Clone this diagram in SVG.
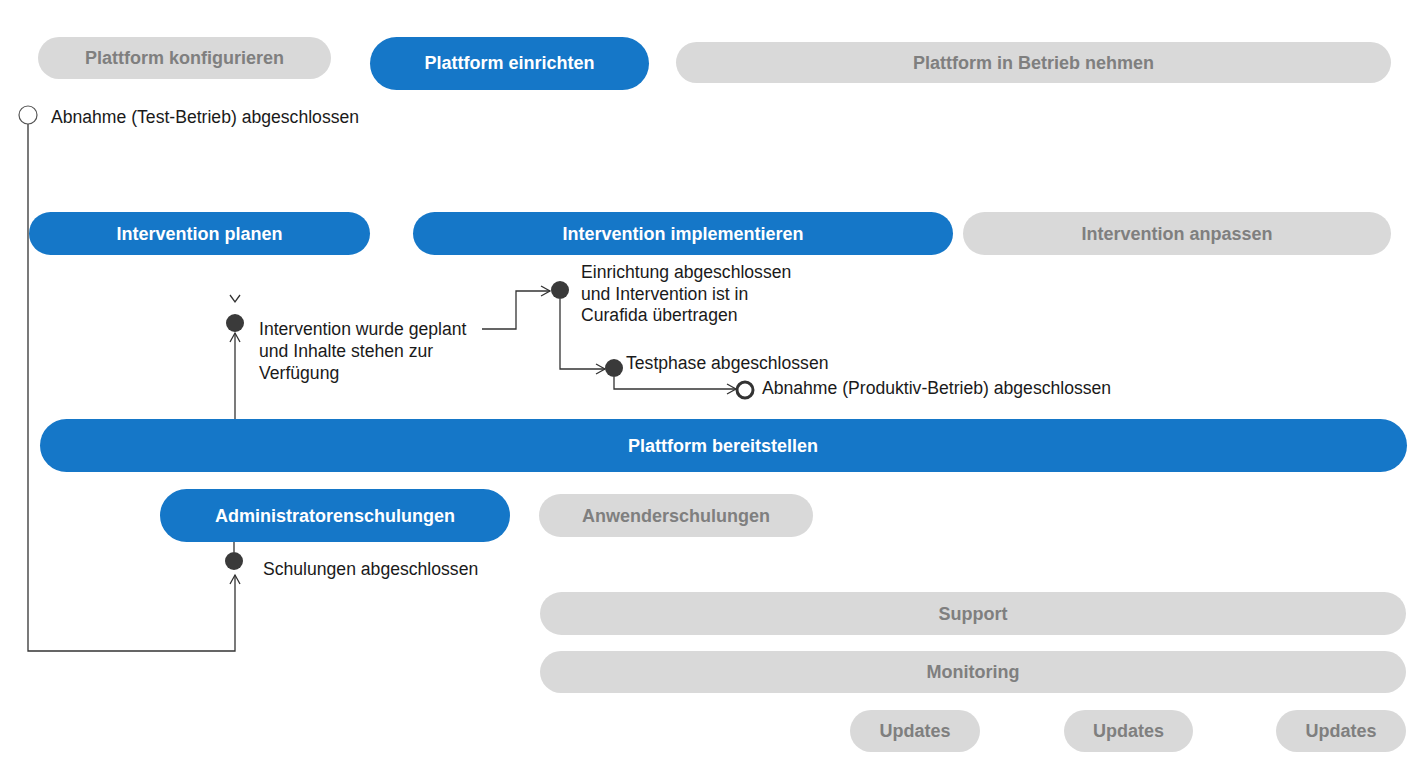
<svg xmlns="http://www.w3.org/2000/svg" width="1410" height="760" viewBox="0 0 1410 760">
<style>
.blue{fill:#1577c8}
.gray{fill:#d9d9d9}
.lb{font-family:"Liberation Sans",Arial,sans-serif;font-weight:bold;font-size:18px;text-anchor:middle}
.lw{fill:#ffffff}
.lg{fill:#7f7f7f}
.t{font-family:"Liberation Sans",Arial,sans-serif;font-size:17.6px;fill:#1a1a1a}
.ln{fill:none;stroke:#333333;stroke-width:1.3}
.dot{fill:#3a3a3a}
</style>
<defs>
<marker id="ah" markerWidth="12" markerHeight="12" refX="10" refY="6" orient="auto" markerUnits="userSpaceOnUse">
<path d="M1,1 L10,6 L1,11" fill="none" stroke="#333333" stroke-width="1.3"/>
</marker>
</defs>
<rect width="1410" height="760" fill="#ffffff"/>

<g id="n-plattform-konfigurieren"><rect class="gray" x="38" y="37" width="293" height="42" rx="21"/><text class="lb lg" x="184.5" y="64">Plattform konfigurieren</text></g>
<g id="n-plattform-einrichten"><rect class="blue" x="370" y="37" width="279" height="53" rx="26.5"/><text class="lb lw" x="509.5" y="69">Plattform einrichten</text></g>
<g id="n-plattform-betrieb"><rect class="gray" x="676" y="42" width="715" height="41" rx="20.5"/><text class="lb lg" x="1033.5" y="69">Plattform in Betrieb nehmen</text></g>

<g id="n-intervention-planen"><rect class="blue" x="29" y="212" width="341" height="43" rx="21.5"/><text class="lb lw" x="199.5" y="240">Intervention planen</text></g>
<g id="n-intervention-implementieren"><rect class="blue" x="413" y="212" width="540" height="43" rx="21.5"/><text class="lb lw" x="683" y="240">Intervention implementieren</text></g>
<g id="n-intervention-anpassen"><rect class="gray" x="963" y="212" width="428" height="43" rx="21.5"/><text class="lb lg" x="1177" y="240">Intervention anpassen</text></g>

<g id="n-plattform-bereitstellen"><rect class="blue" x="40" y="419" width="1367" height="53" rx="26.5"/><text class="lb lw" x="723" y="452">Plattform bereitstellen</text></g>

<g id="n-administratorenschulungen"><rect class="blue" x="160" y="489" width="350" height="53" rx="26.5"/><text class="lb lw" x="335" y="522">Administratorenschulungen</text></g>
<g id="n-anwenderschulungen"><rect class="gray" x="539" y="494" width="274" height="43" rx="21.5"/><text class="lb lg" x="676" y="522">Anwenderschulungen</text></g>

<g id="n-support"><rect class="gray" x="540" y="592" width="866" height="43" rx="21.5"/><text class="lb lg" x="973" y="620">Support</text></g>
<g id="n-monitoring"><rect class="gray" x="540" y="651" width="866" height="42" rx="21"/><text class="lb lg" x="973" y="678">Monitoring</text></g>

<g id="n-updates-1"><rect class="gray" x="850" y="710" width="130" height="42" rx="21"/><text class="lb lg" x="915" y="737">Updates</text></g>
<g id="n-updates-2"><rect class="gray" x="1064" y="710" width="129" height="42" rx="21"/><text class="lb lg" x="1128.5" y="737">Updates</text></g>
<g id="n-updates-3"><rect class="gray" x="1276" y="710" width="130" height="42" rx="21"/><text class="lb lg" x="1341" y="737">Updates</text></g>

<g id="connectors">
<path class="ln" d="M28,124 V651 H235 V575" marker-end="url(#ah)"/>
<path class="ln" d="M234,542 V552"/>
<path class="ln" d="M235,419 V333" marker-end="url(#ah)"/>
<path class="ln" d="M230,295 L235,302 L240,295"/>
<path class="ln" d="M482,329 H516 V291 H550" marker-end="url(#ah)"/>
<path class="ln" d="M560,299 V369 H605" marker-end="url(#ah)"/>
<path class="ln" d="M614,377 V389 H736" marker-end="url(#ah)"/>
</g>

<g id="m-abnahme-test"><circle cx="28" cy="115" r="9" fill="#ffffff" stroke="#555555" stroke-width="1.2"/><text class="t" x="51" y="123">Abnahme (Test-Betrieb) abgeschlossen</text></g>
<g id="m-schulungen"><circle class="dot" cx="234" cy="561" r="9"/><text class="t" x="263" y="575">Schulungen abgeschlossen</text></g>
<g id="m-intervention-geplant"><circle class="dot" cx="235" cy="323" r="9"/><text class="t" x="259" y="335">Intervention wurde geplant</text><text class="t" x="259" y="357">und Inhalte stehen zur</text><text class="t" x="259" y="379">Verfügung</text></g>
<g id="m-einrichtung"><circle class="dot" cx="560" cy="290" r="9"/><text class="t" x="581" y="278">Einrichtung abgeschlossen</text><text class="t" x="581" y="300">und Intervention ist in</text><text class="t" x="581" y="321">Curafida übertragen</text></g>
<g id="m-testphase"><circle class="dot" cx="614" cy="368" r="9"/><text class="t" x="626" y="369">Testphase abgeschlossen</text></g>
<g id="m-abnahme-produktiv"><circle cx="745" cy="390" r="8" fill="#ffffff" stroke="#333333" stroke-width="3"/><text class="t" x="762" y="394">Abnahme (Produktiv-Betrieb) abgeschlossen</text></g>
</svg>
